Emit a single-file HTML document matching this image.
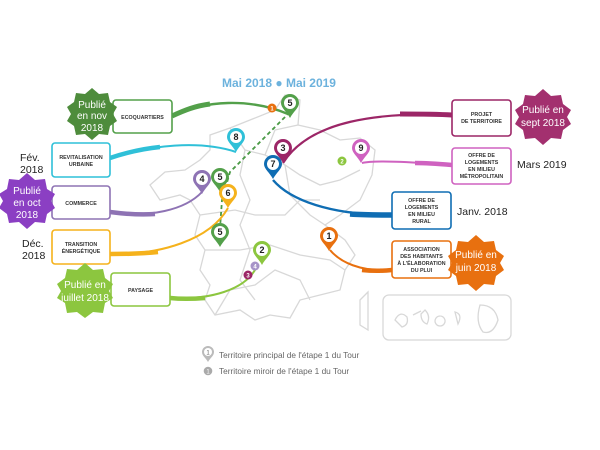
<!DOCTYPE html>
<html><head><meta charset="utf-8"><style>
html,body{margin:0;padding:0;background:#fff;}
svg{display:block;font-family:"Liberation Sans",sans-serif;}
.box{fill:#fff;stroke-width:1.6;}
.bt{font-size:5.3px;font-weight:bold;fill:#333;text-anchor:middle;}
.st{font-size:10px;fill:#fff;text-anchor:middle;}
.lb{font-size:10.5px;fill:#222;}
.pn{font-size:9px;font-weight:bold;fill:#222;text-anchor:middle;}
.map{fill:none;stroke:#d8d8d8;stroke-width:1.3;}
</style></head><body>
<svg width="600" height="450" viewBox="0 0 600 450">
<defs>
<g id="pin"><path d="M0,15 C-3,9 -9,5 -9,0 A9,9 0 1 1 9,0 C9,5 3,9 0,15Z"/><circle r="6" fill="#fff"/></g>
</defs>
<g class="map">
<path d="M210,135 L230,128 L250,120 L275,110 L285,95 L300,100 L298,125 L320,130 L340,140 L360,138 L375,150 L372,175 L360,200 L340,215 L325,225 L345,240 L355,255 L345,270 L340,290 L320,295 L300,300 L290,318 L270,315 L255,320 L240,310 L215,315 L205,300 L210,285 L200,270 L205,250 L195,235 L200,215 L190,200 L180,195 L160,200 L150,185 L165,172 L185,170 L200,160 L210,150 Z"/>
<path d="M230,128 L245,150 L265,155 L285,165 L300,175 L320,185 L340,180 L360,170"/>
<path d="M245,150 L240,175 L250,200 L240,225 L250,250 L240,280 L255,300"/>
<path d="M285,165 L290,195 L310,215 L325,225"/>
<path d="M200,215 L235,210 L255,215 L285,215 L300,200 L320,200"/>
<path d="M205,250 L240,250 L270,245 L300,255 L330,260 L345,270"/>
<path d="M265,155 L275,130 L298,125"/>
<path d="M215,315 L230,290 L255,285 L275,270 L300,280 L310,300"/>
<path d="M360,300 L368,292 L368,330 L360,325 Z"/>
<rect x="383" y="295" width="128" height="45" rx="6"/>
<path d="M395,320 q5,-10 12,-3 q2,8 -5,10 z M413,315 l8,-4 M425,310 q6,6 2,14 q-6,-2 -6,-10 z M440,316 a5,5 0 1 0 .1,0 M455,312 q8,2 3,12 z M480,305 q15,0 18,15 q-5,15 -15,12 q-8,-10 -3,-27z"/>
</g>
<text x="279" y="87" text-anchor="middle" font-size="12" font-weight="bold" fill="#6cb2dd">Mai 2018 ● Mai 2019</text>
<path d="M290,112 L230,172 L222,200 L220,228" fill="none" stroke="#4a9a45" stroke-width="1.8" stroke-dasharray="4,3"/>
<g fill="none">
<path d="M172,116 C205,100 250,98 288,114" stroke="#53a04a" stroke-width="2.4"/>
<path d="M172,116 C185,110 195,106 210,104" stroke="#53a04a" stroke-width="5"/>
<path d="M110,158 C150,145 200,140 236,152" stroke="#2fc0d8" stroke-width="2"/>
<path d="M110,158 C125,153 140,149 160,147" stroke="#2fc0d8" stroke-width="4.5"/>
<path d="M110,212 C150,218 185,210 202,192" stroke="#8e73b4" stroke-width="2"/>
<path d="M110,212 C125,214 140,215 155,214" stroke="#8e73b4" stroke-width="4.5"/>
<path d="M110,254 C160,255 210,240 228,208" stroke="#f5b21c" stroke-width="2"/>
<path d="M110,254 C125,254 140,254 158,252" stroke="#f5b21c" stroke-width="4.5"/>
<path d="M170,298 C210,300 245,290 256,268" stroke="#8cc63f" stroke-width="2"/>
<path d="M170,298 C180,299 192,299 205,298" stroke="#8cc63f" stroke-width="4.5"/>
<path d="M452,115 C380,112 310,120 283,163" stroke="#9c2667" stroke-width="2.2"/>
<path d="M452,115 C435,114 418,114 400,114" stroke="#9c2667" stroke-width="5"/>
<path d="M452,165 C410,162 375,160 362,163" stroke="#cf62c0" stroke-width="2"/>
<path d="M452,165 C440,164 428,163 415,163" stroke="#cf62c0" stroke-width="4.5"/>
<path d="M392,215 C330,215 290,200 273,180" stroke="#0f6db3" stroke-width="2.4"/>
<path d="M392,215 C378,215 365,215 350,214" stroke="#0f6db3" stroke-width="5.5"/>
<path d="M392,270 C360,272 340,262 330,250" stroke="#e8700f" stroke-width="2"/>
<path d="M392,270 C382,271 372,271 362,270" stroke="#e8700f" stroke-width="4.5"/>
</g>
<rect class="box" x="113" y="100" width="59" height="33" rx="3" stroke="#53a04a"/>
<text class="bt" x="142.5" y="119">ECOQUARTIERS</text>
<rect class="box" x="52" y="143" width="58" height="34" rx="3" stroke="#2fc0d8"/>
<text class="bt" x="81" y="159">REVITALISATION</text><text class="bt" x="81" y="166">URBAINE</text>
<rect class="box" x="52" y="186" width="58" height="33" rx="3" stroke="#8e73b4"/>
<text class="bt" x="81" y="205">COMMERCE</text>
<rect class="box" x="52" y="230" width="58" height="34" rx="3" stroke="#f5b21c"/>
<text class="bt" x="81" y="246">TRANSITION</text><text class="bt" x="81" y="253">ÉNERGÉTIQUE</text>
<rect class="box" x="111" y="273" width="59" height="33" rx="3" stroke="#8cc63f"/>
<text class="bt" x="140.5" y="292">PAYSAGE</text>
<rect class="box" x="452" y="100" width="59" height="36" rx="3" stroke="#9c2667"/>
<text class="bt" x="481.5" y="116">PROJET</text><text class="bt" x="481.5" y="123">DE TERRITOIRE</text>
<rect class="box" x="452" y="148" width="59" height="36" rx="3" stroke="#cf62c0"/>
<text class="bt" x="481.5" y="157">OFFRE DE</text><text class="bt" x="481.5" y="164">LOGEMENTS</text><text class="bt" x="481.5" y="171">EN MILIEU</text><text class="bt" x="481.5" y="178">MÉTROPOLITAIN</text>
<rect class="box" x="392" y="192" width="59" height="37" rx="3" stroke="#0f6db3"/>
<text class="bt" x="421.5" y="202">OFFRE DE</text><text class="bt" x="421.5" y="209">LOGEMENTS</text><text class="bt" x="421.5" y="216">EN MILIEU</text><text class="bt" x="421.5" y="223">RURAL</text>
<rect class="box" x="392" y="241" width="59" height="37" rx="3" stroke="#e8700f"/>
<text class="bt" x="421.5" y="251">ASSOCIATION</text><text class="bt" x="421.5" y="258">DES HABITANTS</text><text class="bt" x="421.5" y="265">À L'ÉLABORATION</text><text class="bt" x="421.5" y="272">DU PLUI</text>
<g>
<polygon fill="#4e8c3c" points="92,88 99,94 108,93 110,102 117,107 113,114 117,121 110,126 108,135 99,134 92,140 85,134 76,135 74,126 67,121 71,114 67,107 74,102 76,93 85,94"/>
<text class="st" x="92" y="108">Publié</text><text class="st" x="92" y="119">en nov</text><text class="st" x="92" y="131">2018</text>
<polygon fill="#8b3fc3" points="27,173 35,180 45,179 47,189 55,194 51,201 55,208 47,214 45,223 35,222 27,229 19,222 9,223 7,214 -1,208 3,201 -1,194 7,189 9,179 19,180"/>
<text class="st" x="27" y="194">Publié</text><text class="st" x="27" y="206">en oct</text><text class="st" x="27" y="218">2018</text>
<polygon fill="#8cc63f" points="85,263 93,270 103,269 105,278 113,284 109,291 113,298 105,303 103,313 93,312 85,318 77,312 67,313 65,303 57,298 61,291 57,284 65,278 67,269 77,270"/>
<text class="st" x="85" y="288">Publié en</text><text class="st" x="85" y="301">juillet 2018</text>
<polygon fill="#a3306f" points="543,89 551,96 561,95 563,104 571,110 567,117 571,124 563,130 561,139 551,138 543,145 535,138 525,139 523,130 515,124 519,117 515,110 523,104 525,95 535,96"/>
<text class="st" x="543" y="113">Publié en</text><text class="st" x="543" y="126">sept 2018</text>
<polygon fill="#e8700f" points="476,235 484,242 494,241 496,250 504,256 500,263 504,270 496,276 494,285 484,284 476,291 468,284 458,285 456,276 448,270 452,263 448,256 456,250 458,241 468,242"/>
<text class="st" x="476" y="258">Publié en</text><text class="st" x="476" y="271">juin 2018</text>
</g>
<text class="lb" x="20" y="161">Fév.</text><text class="lb" x="20" y="173">2018</text>
<text class="lb" x="22" y="247">Déc.</text><text class="lb" x="22" y="259">2018</text>
<text class="lb" x="517" y="168">Mars 2019</text>
<text class="lb" x="457" y="215">Janv. 2018</text>
<g><use href="#pin" x="290" y="103" fill="#53a04a"/><text class="pn" x="290" y="106">5</text></g>
<circle cx="272" cy="108" r="4.5" fill="#e8700f"/><text x="272" y="110.5" font-size="6" fill="#fff" text-anchor="middle" font-weight="bold">1</text>
<g><use href="#pin" x="236" y="137" fill="#2fc0d8"/><text class="pn" x="236" y="140">8</text></g>
<g><use href="#pin" x="283" y="148" fill="#9c2667"/><text class="pn" x="283" y="151">3</text></g>
<g><use href="#pin" x="273" y="164" fill="#0f6db3"/><text class="pn" x="273" y="167">7</text></g>
<g><use href="#pin" x="361" y="148" fill="#cf62c0"/><text class="pn" x="361" y="151">9</text></g>
<circle cx="342" cy="161" r="4.5" fill="#8cc63f"/><text x="342" y="163.5" font-size="6" fill="#fff" text-anchor="middle" font-weight="bold">2</text>
<g><use href="#pin" x="202" y="179" fill="#8e73b4"/><text class="pn" x="202" y="182">4</text></g>
<g><use href="#pin" x="220" y="177" fill="#53a04a"/><text class="pn" x="220" y="180">5</text></g>
<g><use href="#pin" x="228" y="193" fill="#f5b21c"/><text class="pn" x="228" y="196">6</text></g>
<g><use href="#pin" x="220" y="232" fill="#53a04a"/><text class="pn" x="220" y="235">5</text></g>
<g><use href="#pin" x="262" y="250" fill="#8cc63f"/><text class="pn" x="262" y="253">2</text></g>
<g><use href="#pin" x="329" y="236" fill="#e8700f"/><text class="pn" x="329" y="239">1</text></g>
<circle cx="255" cy="266" r="4.5" fill="#a694c8"/><text x="255" y="268.5" font-size="6" fill="#fff" text-anchor="middle" font-weight="bold">4</text>
<circle cx="248" cy="275" r="4.5" fill="#9c2667"/><text x="248" y="277.5" font-size="6" fill="#fff" text-anchor="middle" font-weight="bold">3</text>
<path d="M208,362 C206,358 202,356 202,352 A6,6 0 1 1 214,352 C214,356 210,358 208,362Z" fill="#bbb"/><circle cx="208" cy="352" r="4" fill="#fff"/><text x="208" y="354.5" font-size="6" text-anchor="middle" fill="#666">1</text>
<text x="219" y="358" font-size="8.3" fill="#666">Territoire principal de l'étape 1 du Tour</text>
<circle cx="208" cy="371" r="4.3" fill="#aaa"/><text x="208" y="373.5" font-size="6" fill="#fff" text-anchor="middle">1</text>
<text x="219" y="374" font-size="8.3" fill="#666">Territoire miroir de l'étape 1 du Tour</text>
</svg>
</body></html>
